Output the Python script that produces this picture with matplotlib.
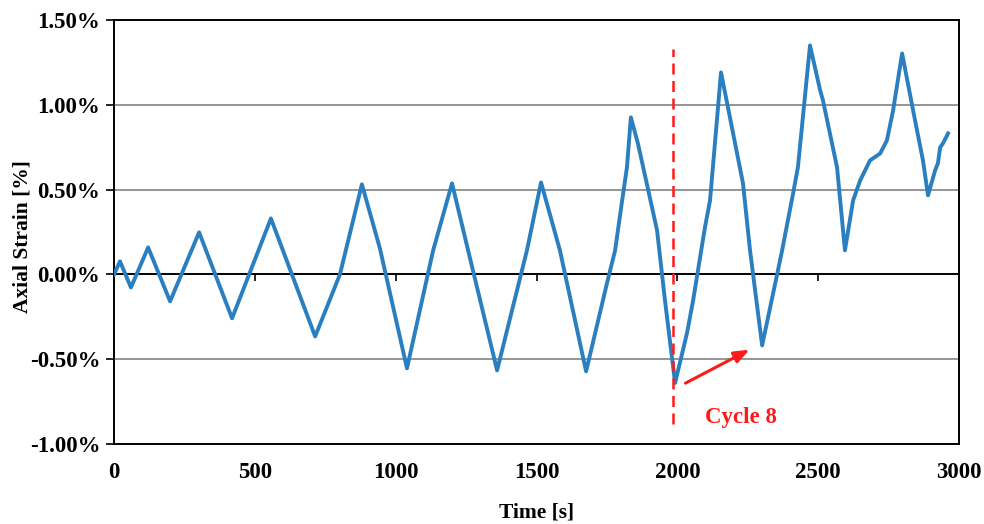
import matplotlib.pyplot as plt
from matplotlib.ticker import FuncFormatter

# time [s] and axial strain [%]
time_s = [0, 21, 60, 121, 199, 302, 419, 557, 714, 802, 880, 944, 1040,
          1133, 1200, 1257, 1360, 1466, 1516, 1583, 1676, 1750, 1779, 1804,
          1821, 1835, 1860, 1889, 1928, 1956, 1992, 2034, 2056, 2098, 2116,
          2155, 2198, 2233, 2258, 2301, 2340, 2372, 2411, 2428, 2471, 2507,
          2517, 2567, 2595, 2624, 2649, 2684, 2720, 2744, 2766, 2798, 2837,
          2872, 2890, 2915, 2925, 2933, 2943, 2961]
strain = [0.0, 0.077, -0.077, 0.159, -0.159, 0.248, -0.259, 0.330, -0.366,
          0.0, 0.531, 0.153, -0.554, 0.142, 0.537, 0.142, -0.566, 0.142,
          0.542, 0.142, -0.572, -0.053, 0.142, 0.436, 0.631, 0.926, 0.772,
          0.554, 0.259, -0.153, -0.640, -0.348, -0.153, 0.277, 0.436, 1.191,
          0.831, 0.537, 0.142, -0.419, -0.112, 0.142, 0.478, 0.631, 1.350,
          1.085, 1.026, 0.631, 0.142, 0.436, 0.554, 0.672, 0.713, 0.790,
          0.967, 1.303, 0.967, 0.672, 0.466, 0.613, 0.654, 0.749, 0.772, 0.831]

x_ticks = [0, 500, 1000, 1500, 2000, 2500, 3000]
y_ticks = [-1.0, -0.5, 0.0, 0.5, 1.0, 1.5]

cycle_time = 1985
arrow_from = (2020, -0.649)
arrow_to = (2265, -0.436)

plt.rcParams['font.family'] = ['Liberation Serif', 'DejaVu Serif']

fig = plt.figure(figsize=(9.84, 5.24), dpi=100)
ax = fig.add_axes([0.1159, 0.1527, 0.8587, 0.8091])

# gridlines
for v in y_ticks[1:-1]:
    if v != 0:
        ax.axhline(v, color='#8c8c8c', lw=1.3, zorder=1)

ax.plot(time_s, strain, color='#2a7fc0', lw=2.8, solid_joinstyle='round', zorder=3)

# cycle 8 marker
ax.plot([cycle_time, cycle_time], [-0.88, 1.33], color='#ff1a1a', lw=1.8,
        dashes=(4.4, 2.6), zorder=4)
ax.annotate('', xy=arrow_to, xytext=arrow_from,
            arrowprops=dict(arrowstyle='-|>,head_length=0.9,head_width=0.35',
                            color='#ff1a1a', lw=2.2), zorder=5)
ax.text(2226, -0.845, 'Cycle 8', color='#ff1a1a', fontsize=16.5,
        fontweight='bold', ha='center', va='center')

ax.set_xlim(0, 3000)
ax.set_ylim(-1.0, 1.5)
ax.set_xticks(x_ticks)
ax.set_yticks(y_ticks)
ax.yaxis.set_major_formatter(FuncFormatter(lambda v, p: f'{v:.2f}%'))
ax.tick_params(axis='x', length=0, pad=13, labelsize=16.5)
ax.tick_params(axis='y', direction='out', length=6, width=1.2, pad=4, labelsize=16.5)
for lab in ax.get_xticklabels() + ax.get_yticklabels():
    lab.set_fontweight('bold')
for s in ax.spines.values():
    s.set_linewidth(1.4)

# zero axis line with its tick marks
zero_ax = ax.secondary_xaxis(0.4)
zero_ax.set_xticks(x_ticks)
zero_ax.set_xticklabels([''] * len(x_ticks))
zero_ax.tick_params(direction='out', length=5, width=1.2)
zero_ax.spines['bottom'].set_linewidth(1.4)

ax.set_xlabel('Time [s]', fontsize=15.5, fontweight='bold', labelpad=14)
ax.set_ylabel('Axial Strain [%]', fontsize=15.5, fontweight='bold')
ax.yaxis.set_label_coords(-0.097, 0.49)

fig.savefig('out.png', dpi=100)
